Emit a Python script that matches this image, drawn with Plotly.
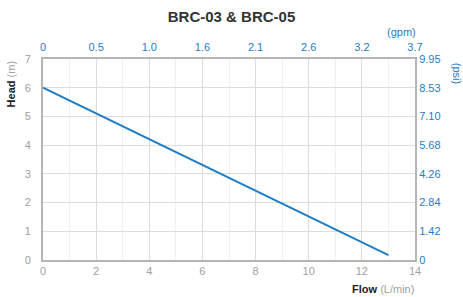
import plotly.graph_objects as go

flow_lpm = [0, 13]
head_m = [6.0, 0.17]

x_ticks = [0, 2, 4, 6, 8, 10, 12, 14]
gpm_labels = ["0", "0.5", "1.0", "1.6", "2.1", "2.6", "3.2", "3.7"]
y_ticks = [0, 1, 2, 3, 4, 5, 6, 7]
psi_labels = ["0", "1.42", "2.84", "4.26", "5.68", "7.10", "8.53", "9.95"]

BLUE = "#1f7dc6"
GRAY = "#a0a0a0"
FONT = "Liberation Sans"

fig = go.Figure()
fig.add_trace(go.Scatter(x=flow_lpm, y=head_m, mode="lines",
                         line=dict(color=BLUE, width=2), showlegend=False,
                         hoverinfo="skip"))
fig.add_trace(go.Scatter(x=[0], y=[0], xaxis="x2", yaxis="y2", mode="markers",
                         marker=dict(opacity=0), showlegend=False, hoverinfo="skip"))

fig.update_layout(
    width=463, height=297,
    margin=dict(l=43, r=48, t=59, b=37),
    paper_bgcolor="white", plot_bgcolor="white",
    font=dict(family=FONT, size=11, color=GRAY),
    title=dict(text="<b>BRC-03 & BRC-05</b>", x=0.5, xanchor="center", y=0.945, yanchor="middle",
               font=dict(family=FONT, size=15, color="#333333")),
    xaxis=dict(range=[0, 14], tickvals=x_ticks, ticks="", showline=True,
               linecolor="#b5b5b5", linewidth=2, gridcolor="#dddddd", gridwidth=1,
               minor=dict(dtick=1, showgrid=True, gridcolor="#f0f0f0"),
               tickfont=dict(color=GRAY, size=11), zeroline=False, automargin=False),
    yaxis=dict(range=[0, 7], tickvals=y_ticks, ticks="", showline=True,
               linecolor="#b5b5b5", linewidth=2, gridcolor="#dddddd",
               tickfont=dict(color=GRAY, size=11), zeroline=False, ticklabelstandoff=8,
               automargin=False),
    xaxis2=dict(range=[0, 14], overlaying="x", side="top", tickvals=x_ticks,
                ticktext=gpm_labels, showgrid=False, showline=True, linecolor="#b5b5b5",
                linewidth=2, tickfont=dict(color=BLUE, size=11), zeroline=False,
                automargin=False, ticklabelstandoff=2),
    yaxis2=dict(range=[0, 7], overlaying="y", side="right", tickvals=y_ticks,
                ticktext=psi_labels, showgrid=False, showline=True, linecolor="#b5b5b5",
                linewidth=2, tickfont=dict(color=BLUE, size=11), zeroline=False,
                automargin=False),
)

fig.add_annotation(text="<b>Head</b> <span style='color:#a0a0a0'>(m)</span>",
                   xref="paper", yref="paper", x=-0.085, y=1.0, xanchor="center",
                   yanchor="top", textangle=-90, showarrow=False,
                   font=dict(family=FONT, size=11, color="#222222"))
fig.add_annotation(text="<b>Flow</b> <span style='color:#a0a0a0'>(L/min)</span>",
                   xref="paper", yref="paper", x=1.0, y=-0.145, xanchor="right",
                   yanchor="middle", showarrow=False, borderpad=0,
                   font=dict(family=FONT, size=11, color="#222222"))
fig.add_annotation(text="(gpm)", xref="paper", yref="paper", x=1.005, y=1.134,
                   xanchor="right", yanchor="middle", showarrow=False, borderpad=0,
                   font=dict(family=FONT, size=11, color=BLUE))
fig.add_annotation(text="(psi)", xref="paper", yref="paper", x=1.115, y=0.99,
                   xanchor="center", yanchor="top", textangle=90, showarrow=False,
                   font=dict(family=FONT, size=11, color=BLUE))

fig.write_html("out.html", post_script="document.body.style.margin='0';",
               config={"displayModeBar": False})
